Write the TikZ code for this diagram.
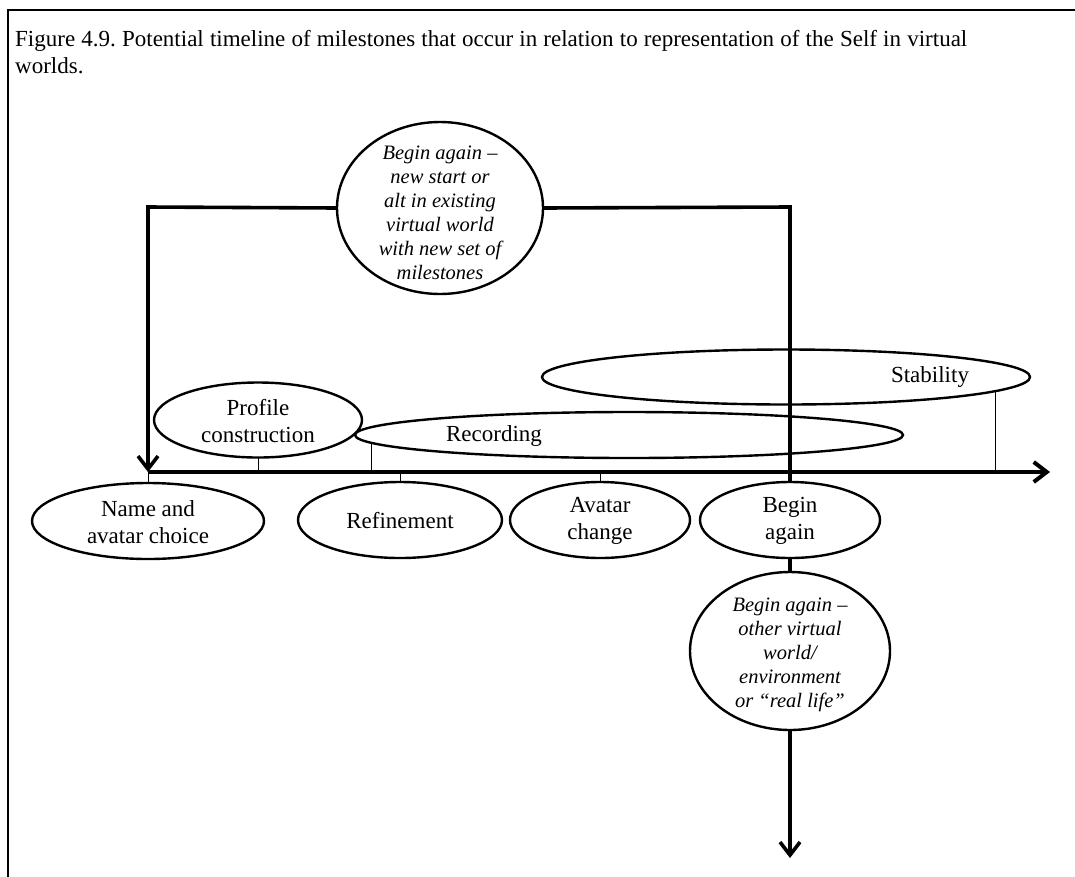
\documentclass[tikz,border=0pt]{standalone}
\usepackage{fontspec}
\setmainfont{Liberation Serif}
\usetikzlibrary{arrows.meta,shapes.geometric}
\frenchspacing
\begin{document}
\begin{tikzpicture}[x=1pt,y=-1pt,
  ms/.style={draw, ellipse, line width=2.4pt, inner sep=0pt, outer sep=0pt},
  lbl/.style={align=center, inner sep=0pt, font=\fontsize{23}{27}\selectfont},
  itl/.style={align=center, inner sep=0pt, font=\fontsize{20.5}{24}\selectfont\itshape},
  conn/.style={line width=3.6pt},
  axis/.style={line width=4pt},
  tip/.style={-{Straight Barb[length=13pt,width=20pt]}},
  tick/.style={line width=0.9pt},
  frame/.style={line width=2pt}]
\useasboundingbox (0,0) rectangle (1075,876);

% frame lines (top and left)
\coordinate (fb) at (8,877);
\coordinate (fc) at (8,10);
\coordinate (fr) at (1076,10);
\draw[frame] (fb) -- (fc) -- (fr);

% caption
\node[anchor=north west, text width=952pt, align=justify, inner sep=0pt,
      font=\fontsize{23}{27}\selectfont] (title) at (15,30)
  {Figure 4.9. Potential timeline of milestones that occur in relation to representation of the Self in virtual worlds.};

% timeline
\coordinate (tl0) at (148,472);
\coordinate (tl1) at (1050,472);
\draw[axis, tip] (tl0) -- (tl1);

% ellipses above the timeline
\node[ms, minimum width=488pt, minimum height=55pt] (stab) at (786,377) {};
\node[lbl] (stabT) at (930,377) {Stability};
\node[ms, minimum width=548pt, minimum height=46pt] (rec) at (629,435) {};
\node[lbl] (recT) at (494,436) {Recording};
\node[ms, minimum width=208pt, minimum height=75pt] (prof) at (258,420) {};
\node[lbl] (profT) at (258,421) {Profile\\construction};

% ellipses below the timeline
\node[ms, minimum width=232pt, minimum height=76pt] (name) at (148,521) {};
\node[lbl] (nameT) at (148,522) {Name and\\avatar choice};
\node[ms, minimum width=204pt, minimum height=76pt] (ref) at (400,520) {};
\node[lbl] (refT) at (400,521) {Refinement};
\node[ms, minimum width=180pt, minimum height=76pt] (av) at (600,520) {};
\node[lbl] (avT) at (600,521) {Avatar\\change};
\node[ms, minimum width=180pt, minimum height=76pt] (beg) at (790,520) {};
\node[lbl] (begT) at (790,521) {Begin\\again};

% restart loops
\node[ms, minimum width=206pt, minimum height=172pt] (top) at (440,208) {};
\node[itl] (topT) at (440,213) {Begin again –\\new start or\\alt in existing\\virtual world\\with new set of\\milestones};
\node[ms, minimum width=200pt, minimum height=158pt] (bot) at (790,651) {};
\node[itl] (botT) at (790,655) {Begin again –\\other virtual\\world/\\environment\\or “real life”};

\coordinate (cL) at (148,207);
\coordinate (cR) at (790,207);
\coordinate (endB) at (790,858);

\draw[conn, tip] (top.west) -- (cL) -- (tl0);
\draw[conn] (top.east) -- (cR) -- (beg.north);
\draw[conn] (beg.south) -- (bot.north);
\draw[conn, tip] (bot.south) -- (endB);

% milestone ticks
\coordinate (recTick) at (371,443);
\coordinate (stabTick) at (995,392);
\draw[tick] (name.north) -- (name.north |- tl0);
\draw[tick] (ref.north) -- (ref.north |- tl0);
\draw[tick] (av.north) -- (av.north |- tl0);
\draw[tick] (prof.south) -- (prof.south |- tl0);
\draw[tick] (recTick) -- (recTick |- tl0);
\draw[tick] (stabTick) -- (stabTick |- tl0);
\end{tikzpicture}
\end{document}
